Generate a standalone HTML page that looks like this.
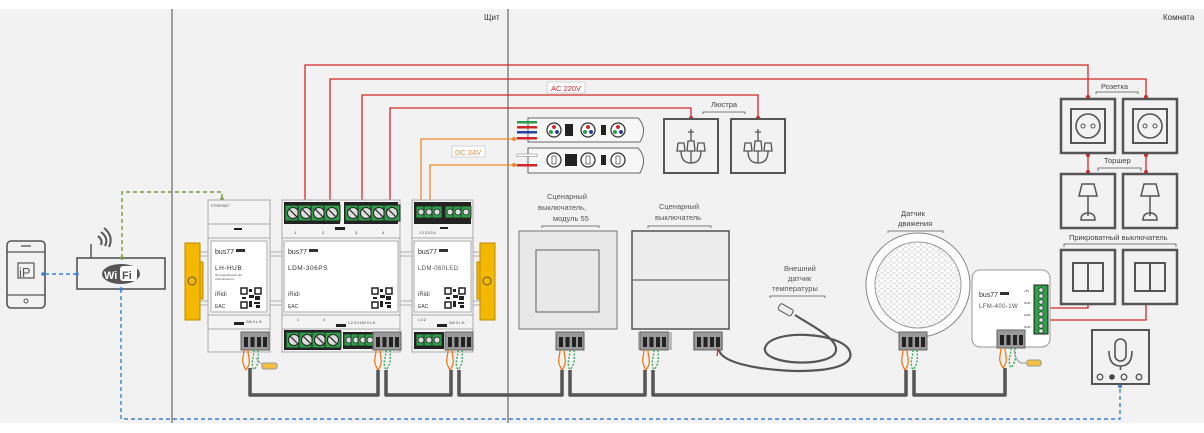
<!DOCTYPE html>
<html><head><meta charset="utf-8"><style>
html,body{margin:0;padding:0;background:#fff;width:1204px;height:433px;overflow:hidden}
svg{display:block;font-family:"Liberation Sans","DejaVu Sans",sans-serif}
</style></head><body>
<svg width="1204" height="433" viewBox="0 0 1204 433" xmlns="http://www.w3.org/2000/svg">
<defs>
<pattern id="hex" width="6" height="5.2" patternUnits="userSpaceOnUse"><circle cx="3" cy="2.6" r="2.4" fill="#fff" stroke="#d8d8d8" stroke-width="0.6"/><circle cx="0" cy="0" r="2.4" fill="#fff" stroke="#d8d8d8" stroke-width="0.6"/><circle cx="6" cy="0" r="2.4" fill="#fff" stroke="#d8d8d8" stroke-width="0.6"/><circle cx="0" cy="5.2" r="2.4" fill="#fff" stroke="#d8d8d8" stroke-width="0.6"/><circle cx="6" cy="5.2" r="2.4" fill="#fff" stroke="#d8d8d8" stroke-width="0.6"/></pattern>
<g id="qr"><rect width="22" height="22" fill="#fff"/>
<rect x="1" y="1" width="6" height="6" fill="none" stroke="#222" stroke-width="1.5"/><rect x="15" y="1" width="6" height="6" fill="none" stroke="#222" stroke-width="1.5"/><rect x="1" y="15" width="6" height="6" fill="none" stroke="#222" stroke-width="1.5"/>
<rect x="9" y="2" width="3" height="3" fill="#222"/><rect x="9" y="8" width="5" height="3" fill="#222"/><rect x="2" y="10" width="4" height="2" fill="#222"/><rect x="15" y="9" width="5" height="4" fill="#222"/><rect x="9" y="14" width="3" height="6" fill="#222"/><rect x="14" y="15" width="6" height="2" fill="#222"/><rect x="16" y="18" width="4" height="3" fill="#222"/></g>
<g id="gt"><rect width="16" height="16" fill="#2e9e4a" stroke="#222" stroke-width="1"/><circle cx="8" cy="8" r="5.5" fill="#ddd" stroke="#222"/><line x1="4.5" y1="4.5" x2="11.5" y2="11.5" stroke="#222" stroke-width="1.2"/></g>
<g id="gs"><rect width="10" height="12" fill="#2e9e4a" stroke="#222" stroke-width="0.8"/><circle cx="5" cy="6" r="3" fill="#ddd" stroke="#222" stroke-width="0.8"/></g>
<g id="term"><rect width="28" height="18" fill="#999" stroke="#666"/><rect x="3" y="5" width="4" height="10" fill="#222"/><rect x="9.5" y="5" width="4" height="10" fill="#222"/><rect x="16" y="5" width="4" height="10" fill="#222"/><rect x="22" y="5" width="4" height="10" fill="#222"/></g>
<g id="wires"><path d="M2,0 C2,8 -2,10 4,20 M6,0 C6,8 10,12 4,20" stroke="#f07a1a" stroke-width="1.3" fill="none"/><path d="M12,0 C12,8 8,12 12,20 M16,0 C16,8 18,12 12,20" stroke="#2da84a" stroke-width="1.3" fill="none" stroke-dasharray="2 1.5"/></g>
<g id="sock"><rect width="54" height="54" fill="#f2f2f2" stroke="#555" stroke-width="2.5"/><rect x="10" y="10" width="34" height="34" fill="none" stroke="#555" stroke-width="2"/><circle cx="27" cy="27" r="12" fill="none" stroke="#555" stroke-width="1.6"/><circle cx="22" cy="27" r="2" fill="none" stroke="#555"/><circle cx="32" cy="27" r="2" fill="none" stroke="#555"/></g>
<g id="lamp"><rect width="54" height="54" fill="#f2f2f2" stroke="#555" stroke-width="2.5"/><path d="M21,10 H33 L36,22 H18 Z" fill="none" stroke="#555" stroke-width="1.5"/><line x1="27" y1="22" x2="27" y2="42" stroke="#555" stroke-width="1.5"/><path d="M20,46 Q20,39 27,39 Q34,39 34,46 Z" fill="none" stroke="#555" stroke-width="1.5"/></g>
<g id="bsw"><rect width="54" height="54" fill="#f2f2f2" stroke="#555" stroke-width="2.5"/><rect x="12" y="13" width="30" height="28" fill="none" stroke="#555" stroke-width="2"/><line x1="27" y1="13" x2="27" y2="41" stroke="#555" stroke-width="2"/></g>
<g id="chand"><rect width="54" height="54" fill="#f2f2f2" stroke="#555" stroke-width="2"/><path d="M27,10 V22 M24,13 H30" stroke="#555" stroke-width="1.3"/><path d="M14,24 H20 L21,32 H13 Z M24,22 H30 L31,32 H23 Z M34,24 H40 L41,32 H33 Z" fill="none" stroke="#555" stroke-width="1.3"/><path d="M17,32 Q17,44 27,44 Q37,44 37,32 M27,32 V44" fill="none" stroke="#555" stroke-width="1.3"/></g>
</defs>

<rect x="0" y="9" width="1204" height="414" fill="#f2f2f2"/>
<line x1="172" y1="9" x2="172" y2="423" stroke="#666" stroke-width="1.2"/>
<line x1="508" y1="9" x2="508" y2="423" stroke="#666" stroke-width="1.2"/>
<text x="484" y="20" font-size="8" fill="#333">Щит</text>
<text x="1163" y="20" font-size="8" fill="#333">Комната</text>

<!-- phone -->
<rect x="7" y="241" width="38" height="67" rx="4" fill="#f2f2f2" stroke="#555" stroke-width="1.6"/>
<line x1="7" y1="252" x2="45" y2="252" stroke="#555" stroke-width="1.3"/><line x1="7" y1="295" x2="45" y2="295" stroke="#555" stroke-width="1.3"/>
<line x1="21" y1="246" x2="31" y2="246" stroke="#555" stroke-width="1.3"/><circle cx="26" cy="301" r="2" fill="none" stroke="#555"/>
<rect x="18" y="263" width="16" height="15" fill="none" stroke="#555" stroke-width="1.2"/><text x="19" y="277" font-size="13" fill="#555">iP</text>
<!-- wifi -->
<rect x="77" y="258" width="88" height="31" fill="#f2f2f2" stroke="#555" stroke-width="1.6"/>
<line x1="91" y1="258" x2="91" y2="244" stroke="#555" stroke-width="1.5"/>
<path d="M98,236 Q103,240 101,245 M101,232 Q109,238 105,246 M104,228 Q114,236 109,247" fill="none" stroke="#555" stroke-width="2"/>
<ellipse cx="121" cy="274" rx="19" ry="10" fill="#555"/>
<text x="104" y="279" font-size="11" font-weight="bold" fill="#fff">Wi</text><rect x="120" y="266" width="17" height="15" rx="3" fill="#fff"/><text x="122" y="279" font-size="11" font-weight="bold" fill="#555">Fi</text>
<!-- dashed links -->
<path d="M45,274 H77" stroke="#3a82d0" stroke-width="1.4" stroke-dasharray="4 3" fill="none"/>
<circle cx="43" cy="274" r="1.8" fill="#3a82d0"/><circle cx="77" cy="274" r="1.8" fill="#3a82d0"/>
<path d="M121,289 V419 H1120 V385" stroke="#3a82d0" stroke-width="1.4" stroke-dasharray="4 3" fill="none"/>
<circle cx="121" cy="289" r="1.8" fill="#3a82d0"/><circle cx="1120" cy="386" r="2" fill="#3a82d0"/>
<path d="M122,258 V192 H222 V200" stroke="#7a9a3a" stroke-width="1.4" stroke-dasharray="4 3" fill="none"/>
<circle cx="122" cy="258" r="1.8" fill="#7a9a3a"/><circle cx="222" cy="199" r="1.8" fill="#7a9a3a"/>

<!-- red AC lines -->
<g stroke="#d02828" stroke-width="1.3" fill="none">
<path d="M305,205 V65 H1088 V98"/><path d="M330,205 V79 H1146 V98"/>
<path d="M362,205 V95 H758 V119"/><path d="M390,205 V108 H691 V119"/>
<path d="M1088,153 V173"/><path d="M1146,153 V173"/>
<path d="M1050,308 H1088 V304"/><path d="M1050,320 H1146 V304"/>
</g>
<g fill="#d02828"><circle cx="305" cy="203" r="2"/><circle cx="330" cy="203" r="2"/><circle cx="362" cy="203" r="2"/><circle cx="390" cy="203" r="2"/>
<circle cx="691" cy="118" r="2"/><circle cx="758" cy="118" r="2"/><circle cx="1088" cy="97" r="2"/><circle cx="1146" cy="97" r="2"/>
<circle cx="1088" cy="155" r="2"/><circle cx="1088" cy="172" r="2"/><circle cx="1146" cy="155" r="2"/><circle cx="1146" cy="172" r="2"/>
<circle cx="1046" cy="308" r="2"/><circle cx="1046" cy="320" r="2"/></g>
<rect x="547" y="82" width="38" height="11" fill="#fff" stroke="#bbb" stroke-width="0.6"/><text x="551" y="91" font-size="7.5" fill="#d02828">AC 220V</text>
<!-- orange DC -->
<g stroke="#f08a30" stroke-width="1.3" fill="none"><path d="M421,205 V139 H517"/><path d="M430,205 V165 H517"/></g>
<g fill="#f08a30"><circle cx="421" cy="203" r="2"/><circle cx="430" cy="203" r="2"/><circle cx="514" cy="139" r="2"/><circle cx="514" cy="165" r="2"/></g>
<rect x="452" y="146" width="33" height="11" fill="#fff" stroke="#bbb" stroke-width="0.6"/><text x="455" y="155" font-size="7.5" fill="#f08a30">DC 24V</text>

<!-- LED strips -->
<path d="M528,118 H638 Q648,128 640,142 H528 Z" fill="#f7f7f7" stroke="#666"/>
<path d="M528,148 H638 Q648,158 640,173 H528 Z" fill="#f7f7f7" stroke="#666"/>
<rect x="517" y="121" width="20" height="2.5" fill="#2e9e4a"/><rect x="517" y="126" width="20" height="2.5" fill="#d02828"/><rect x="517" y="131" width="20" height="2.5" fill="#2a3fa0"/><rect x="517" y="137" width="20" height="2.5" fill="#d02828"/>
<rect x="517" y="154" width="20" height="2.5" fill="#fff" stroke="#777" stroke-width="0.5"/><rect x="517" y="164" width="20" height="2.5" fill="#d02828"/>
<g><circle cx="554" cy="130" r="7" fill="#fff" stroke="#333" stroke-width="1.3"/><circle cx="554" cy="127" r="2" fill="#d02828"/><circle cx="551" cy="132" r="2" fill="#2e9e4a"/><circle cx="557" cy="132" r="2" fill="#2a3fa0"/>
<rect x="565" y="124" width="8" height="12" fill="#222"/>
<circle cx="588" cy="130" r="7" fill="#fff" stroke="#333" stroke-width="1.3"/><circle cx="588" cy="127" r="2" fill="#d02828"/><circle cx="585" cy="132" r="2" fill="#2e9e4a"/><circle cx="591" cy="132" r="2" fill="#2a3fa0"/>
<rect x="601" y="125" width="5" height="10" fill="#222"/>
<circle cx="618" cy="130" r="7" fill="#fff" stroke="#333" stroke-width="1.3"/><circle cx="618" cy="127" r="2" fill="#d02828"/><circle cx="615" cy="132" r="2" fill="#2e9e4a"/><circle cx="621" cy="132" r="2" fill="#2a3fa0"/></g>
<g fill="#fff" stroke="#333" stroke-width="1.3"><circle cx="554" cy="160" r="7"/><circle cx="588" cy="160" r="7"/><circle cx="618" cy="160" r="7"/></g>
<g fill="none" stroke="#555" stroke-width="0.8"><rect x="552" y="156" width="4" height="8"/><rect x="586" y="156" width="4" height="8"/><rect x="616" y="156" width="4" height="8"/></g>
<rect x="565" y="154" width="12" height="12" fill="#222"/><rect x="601" y="155" width="5" height="10" fill="#222"/>
<!-- chandeliers -->
<use href="#chand" x="664" y="119"/><use href="#chand" x="731" y="119"/>
<text x="711" y="107" font-size="7.5" fill="#444">Люстра</text><path d="M703,114 V112 H745 V114" stroke="#555" fill="none" stroke-width="0.8"/>

<!-- DIN rail -->
<g stroke="#bbb" stroke-width="1.3"><line x1="190" y1="252" x2="490" y2="252"/><line x1="190" y1="256" x2="490" y2="256"/><line x1="190" y1="301" x2="490" y2="301"/><line x1="190" y1="305" x2="490" y2="305"/></g>
<g><rect x="185" y="243" width="15" height="77" fill="#f5b800" stroke="#b98a00"/><rect x="200" y="262" width="3" height="37" fill="#f5b800" stroke="#b98a00"/><circle cx="192" cy="281" r="4" fill="none" stroke="#6b4f00"/>
<rect x="480" y="243" width="15" height="77" fill="#f5b800" stroke="#b98a00"/><rect x="477" y="262" width="3" height="37" fill="#f5b800" stroke="#b98a00"/><circle cx="487" cy="281" r="4" fill="none" stroke="#6b4f00"/></g>

<!-- LH-HUB -->
<rect x="208" y="200" width="62" height="152" fill="#f4f4f4" stroke="#aaa"/>
<line x1="208" y1="224" x2="270" y2="224" stroke="#aaa"/><line x1="208" y1="238" x2="270" y2="238" stroke="#aaa"/><line x1="208" y1="315" x2="270" y2="315" stroke="#aaa"/><line x1="208" y1="329" x2="270" y2="329" stroke="#aaa"/>
<text x="211" y="207" font-size="3.5" fill="#555">ETHERNET</text><rect x="234" y="228" width="8" height="2" fill="#222"/>
<rect x="211" y="241" width="56" height="71" fill="#fff" stroke="#aaa"/>
<text x="215" y="254" font-size="7" fill="#333">bus77</text><rect x="236" y="249" width="9" height="3" fill="#333"/>
<text x="215" y="270" font-size="6.5" fill="#333" letter-spacing="0.5">LH-HUB</text>
<text x="215" y="276" font-size="3" fill="#555">Интерфейсный хаб</text><text x="215" y="280" font-size="3" fill="#555">CAN-Ethernet</text>
<text x="215" y="296" font-size="6" fill="#444">iRidi</text><text x="215" y="308" font-size="5" fill="#333">EAC</text>
<use href="#qr" x="240" y="287"/>
<rect x="234" y="322" width="10" height="3" fill="#222"/><text x="246" y="323" font-size="3.5" fill="#333">24V 0  L H</text>
<use href="#term" x="241" y="332"/>

<!-- LDM-306PS -->
<rect x="282" y="200" width="118" height="152" fill="#f4f4f4" stroke="#aaa"/>
<rect x="284" y="202" width="56" height="22" fill="#222"/><rect x="344" y="202" width="54" height="22" fill="#222"/>
<use href="#gt" x="285" y="205"/><use href="#gt" x="298" y="205"/><use href="#gt" x="311" y="205"/><use href="#gt" x="324" y="205"/>
<use href="#gt" x="345" y="205"/><use href="#gt" x="358" y="205"/><use href="#gt" x="371" y="205"/><use href="#gt" x="384" y="205"/>
<line x1="282" y1="238" x2="400" y2="238" stroke="#aaa"/><line x1="282" y1="315" x2="400" y2="315" stroke="#aaa"/><line x1="282" y1="329" x2="400" y2="329" stroke="#aaa"/>
<text x="294" y="234" font-size="4" fill="#333">1</text><text x="322" y="234" font-size="4" fill="#333">2</text><text x="355" y="234" font-size="4" fill="#333">3</text><text x="382" y="234" font-size="4" fill="#333">4</text>
<rect x="335" y="227" width="10" height="3" fill="#222"/>
<rect x="284" y="241" width="114" height="71" fill="#fff" stroke="#aaa"/>
<text x="288" y="254" font-size="7" fill="#333">bus77</text><rect x="309" y="249" width="9" height="3" fill="#333"/>
<text x="288" y="270" font-size="6.5" fill="#333" letter-spacing="0.5">LDM-306PS</text>
<text x="288" y="296" font-size="6" fill="#444">iRidi</text><text x="288" y="308" font-size="5" fill="#333">EAC</text>
<use href="#qr" x="371" y="287"/>
<text x="297" y="321" font-size="3.5" fill="#333">1</text><text x="323" y="321" font-size="3.5" fill="#333">4</text><rect x="336" y="324" width="10" height="3" fill="#222"/>
<text x="348" y="324" font-size="3.5" fill="#333">1 2 3 4  24V 0  L H</text>
<rect x="284" y="330" width="57" height="20" fill="#222"/>
<use href="#gt" x="286" y="332"/><use href="#gt" x="299" y="332"/><use href="#gt" x="312" y="332"/><use href="#gt" x="325" y="332"/>
<rect x="343" y="332" width="30" height="17" fill="#222"/><use href="#gs" x="344" y="334"/><use href="#gs" x="351" y="334"/><use href="#gs" x="358" y="334"/><use href="#gs" x="365" y="334"/>
<use href="#term" x="373" y="332"/>

<!-- LDM-060LED -->
<rect x="412" y="200" width="61" height="152" fill="#f4f4f4" stroke="#aaa"/>
<rect x="414" y="202" width="57" height="22" fill="#222"/>
<use href="#gs" x="416" y="206"/><use href="#gs" x="424" y="206"/><use href="#gs" x="432" y="206"/><use href="#gs" x="445" y="206"/><use href="#gs" x="453" y="206"/><use href="#gs" x="461" y="206"/>
<line x1="412" y1="238" x2="473" y2="238" stroke="#aaa"/><line x1="412" y1="315" x2="473" y2="315" stroke="#aaa"/><line x1="412" y1="329" x2="473" y2="329" stroke="#aaa"/>
<text x="419" y="234" font-size="3.5" fill="#333">1  2  3   3  3  4</text><rect x="440" y="227" width="8" height="2" fill="#222"/>
<rect x="414" y="241" width="57" height="71" fill="#fff" stroke="#aaa"/>
<text x="418" y="254" font-size="7" fill="#333">bus77</text><rect x="439" y="249" width="9" height="3" fill="#333"/>
<text x="418" y="270" font-size="6" fill="#555" letter-spacing="0.4">LDM-060LED</text>
<text x="418" y="296" font-size="6" fill="#444">iRidi</text><text x="418" y="308" font-size="5" fill="#333">EAC</text>
<use href="#qr" x="444" y="287"/>
<text x="418" y="321" font-size="3.5" fill="#333">1  4  2</text><rect x="437" y="324" width="10" height="3" fill="#222"/><text x="449" y="324" font-size="3.5" fill="#333">24V 0  L H</text>
<rect x="414" y="332" width="30" height="17" fill="#222"/><use href="#gs" x="416" y="334"/><use href="#gs" x="424" y="334"/><use href="#gs" x="432" y="334"/>
<use href="#term" x="445" y="332"/>

<!-- wiring under modules -->
<use href="#wires" x="242" y="350"/><use href="#wires" x="374" y="350"/><use href="#wires" x="446" y="350"/>
<path d="M256,358 Q262,366 266,366 H272" stroke="#999" fill="none"/><rect x="262" y="363" width="15" height="6" rx="2" fill="#f5c040" stroke="#999"/>

<!-- room devices -->
<text x="547" y="199" font-size="7.5" fill="#555">Сценарный</text><text x="538" y="210" font-size="7.5" fill="#555">выключатель,</text><text x="553" y="221" font-size="7.5" fill="#555">модуль 55</text>
<path d="M542,228 V226 H599 V228" stroke="#555" fill="none" stroke-width="0.8"/>
<rect x="519" y="231" width="98" height="98" fill="#e8e8e8" stroke="#888" stroke-width="1.2"/><rect x="536" y="250" width="63" height="62" fill="#e8e8e8" stroke="#777" stroke-width="1.2"/>
<text x="659" y="209" font-size="7.5" fill="#555">Сценарный</text><text x="655" y="220" font-size="7.5" fill="#555">выключатель</text>
<path d="M648,228 V226 H711 V228" stroke="#555" fill="none" stroke-width="0.8"/>
<rect x="632" y="231" width="97" height="98" fill="#ececec" stroke="#555" stroke-width="1.5"/><line x1="632" y1="280" x2="729" y2="280" stroke="#666" stroke-width="1.2"/>
<rect x="556" y="332" width="26" height="18" fill="#bbb"/><use href="#term" x="556" y="332"/>
<rect x="638" y="332" width="34" height="18" fill="#bbb"/><use href="#term" x="640" y="332"/><rect x="693" y="332" width="30" height="18" fill="#bbb"/><use href="#term" x="694" y="332"/>
<use href="#wires" x="558" y="350"/><use href="#wires" x="642" y="350"/>
<path d="M719,350 Q722,362 760,368 C800,374 856,372 850,352 C844,332 770,328 765,348 C762,366 835,368 836,350 C837,338 812,326 795,315" fill="none" stroke="#555" stroke-width="2.2"/>
<path d="M718,348 L717,356" stroke="#d02828" stroke-width="1.2"/>
<rect x="778" y="306" width="15" height="7" rx="2" transform="rotate(30 785 310)" fill="#eee" stroke="#555"/>
<text x="784" y="271" font-size="7.5" fill="#555">Внешний</text><text x="788" y="281" font-size="7.5" fill="#555">датчик</text><text x="772" y="291" font-size="7.5" fill="#555">температуры</text>
<path d="M770,298 V296 H825 V298" stroke="#555" fill="none" stroke-width="0.8"/>
<text x="901" y="216" font-size="7.5" fill="#444">Датчик</text><text x="898" y="226" font-size="7.5" fill="#444">движения</text>
<path d="M888,233 V231 H943 V233" stroke="#555" fill="none" stroke-width="0.8"/>
<circle cx="918" cy="285" r="52" fill="#fff" stroke="#888" stroke-width="1"/>
<circle cx="918" cy="285" r="43" fill="url(#hex)" stroke="#999" stroke-width="1"/>
<rect x="899" y="332" width="26" height="18" fill="#bbb"/><use href="#term" x="899" y="332"/>
<use href="#wires" x="901" y="350"/>
<!-- LFM -->
<rect x="972" y="270" width="78" height="77" rx="8" fill="#fff" stroke="#999"/>
<text x="979" y="297" font-size="7" fill="#333">bus77</text><rect x="1000" y="292" width="9" height="3" fill="#333"/>
<text x="979" y="308" font-size="6" fill="#555" letter-spacing="0.4">LFM-400-1W</text>
<rect x="1034" y="285" width="14" height="49" fill="#2e9e4a" stroke="#222"/>
<g fill="#ddd" stroke="#222" stroke-width="0.6"><circle cx="1041" cy="290" r="2.2"/><circle cx="1041" cy="296" r="2.2"/><circle cx="1041" cy="302" r="2.2"/><circle cx="1041" cy="308" r="2.2"/><circle cx="1041" cy="314" r="2.2"/><circle cx="1041" cy="320" r="2.2"/><circle cx="1041" cy="326" r="2.2"/><circle cx="1041" cy="331" r="2.2"/></g>
<text x="1024" y="292" font-size="3" fill="#333">+5V</text><text x="1024" y="304" font-size="3" fill="#333">GND</text><text x="1024" y="316" font-size="3" fill="#333">GND</text><text x="1024" y="328" font-size="3" fill="#333">GND</text>
<rect x="997" y="330" width="28" height="18" fill="#bbb"/><use href="#term" x="997" y="330"/>
<use href="#wires" x="999" y="348"/>
<path d="M1014,350 Q1016,364 1024,363 H1042" stroke="#999" fill="none"/><rect x="1027" y="360" width="14" height="6" rx="2" fill="#f5c040" stroke="#999"/>

<!-- bus cable -->
<g stroke="#555" stroke-width="3.5" fill="none" stroke-linejoin="round">
<path d="M250,368 V395 H378 V370"/><path d="M386,370 V395 H451 V370"/><path d="M459,370 V395 H562 V370"/>
<path d="M570,370 V395 H645 V370"/><path d="M653,370 V395 H906 V370"/><path d="M914,370 V395 H1005 V368"/>
</g>

<!-- right column -->
<text x="1101" y="89" font-size="7.5" fill="#444">Розетка</text><path d="M1096,94 V92 H1138 V94" stroke="#555" fill="none" stroke-width="0.8"/>
<use href="#sock" x="1061" y="99"/><use href="#sock" x="1123" y="99"/>
<text x="1104" y="163" font-size="7.5" fill="#444">Торшер</text><path d="M1098,171 V168 H1141 V171" stroke="#555" fill="none" stroke-width="0.8"/>
<use href="#lamp" x="1061" y="174"/><use href="#lamp" x="1123" y="174"/>
<text x="1069" y="240" font-size="7.5" fill="#444">Прикроватный выключатель</text><path d="M1064,247 V244 H1176 V247" stroke="#555" fill="none" stroke-width="0.8"/>
<use href="#bsw" x="1061" y="250"/><use href="#bsw" x="1123" y="250"/>
<!-- mic -->
<rect x="1092" y="330" width="57" height="54" fill="#f2f2f2" stroke="#555" stroke-width="2"/>
<rect x="1115" y="339" width="11" height="22" rx="5.5" fill="none" stroke="#555" stroke-width="1.6"/>
<path d="M1109,351 Q1109,366 1120.5,366 Q1132,366 1132,351 M1120.5,366 V370" fill="none" stroke="#555" stroke-width="1.6"/>
<circle cx="1100" cy="377" r="2.8" fill="none" stroke="#555" stroke-width="1.3"/><circle cx="1112" cy="377" r="2.8" fill="#444"/><circle cx="1124" cy="377" r="2.8" fill="none" stroke="#555" stroke-width="1.3"/><circle cx="1139" cy="377" r="2.8" fill="none" stroke="#555" stroke-width="1.3"/>
</svg>
</body></html>
